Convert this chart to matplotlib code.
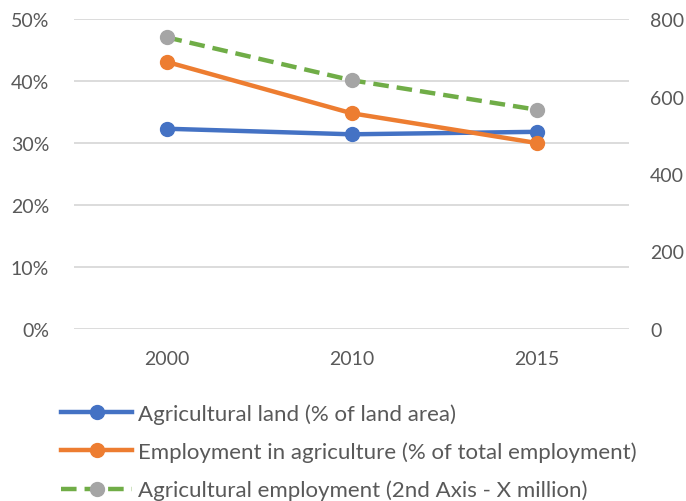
import matplotlib.pyplot as plt
from matplotlib.ticker import PercentFormatter

years = ["2000", "2010", "2015"]
land_share = [32.3, 31.4, 31.8]
employment_share = [43.1, 34.8, 30.0]
employment_millions = [753, 642, 566]

grey_text = "#595959"
plt.rcParams["font.family"] = ["Lato", "DejaVu Sans"]

fig = plt.figure(figsize=(6.86, 5.02), dpi=100)
ax = fig.add_axes([0.108, 0.343, 0.809, 0.617])
ax2 = ax.twinx()

x = range(len(years))
l1, = ax.plot(x, land_share, color="#4472C4", lw=3.2, marker="o", ms=10,
              label="Agricultural land (% of land area)", zorder=3)
l2, = ax.plot(x, employment_share, color="#ED7D31", lw=3.2, marker="o", ms=10,
              label="Employment in agriculture (% of total employment)", zorder=3)
l3, = ax2.plot(x, employment_millions, color="#70AD47", lw=3.2, ls=(0, (3.5, 1.8)),
               marker="o", ms=10, mfc="#A5A5A5", mec="#A5A5A5",
               label="Agricultural employment (2nd Axis - X million)")

ax.set_xlim(-0.5, 2.5)
ax.set_ylim(0, 50)
ax.set_yticks(range(0, 51, 10))
ax.yaxis.set_major_formatter(PercentFormatter(decimals=0))
ax2.set_ylim(0, 800)
ax2.set_yticks(range(0, 801, 200))
ax.set_xticks(list(x))
ax.set_xticklabels(years)

ax.grid(axis="y", color="#D9D9D9", lw=1.3)
ax.set_axisbelow(True)
for a in (ax, ax2):
    for s in a.spines.values():
        s.set_visible(False)
    a.tick_params(length=0, labelsize=14, colors=grey_text)
ax.tick_params(axis="x", pad=15)
ax.tick_params(axis="y", pad=18)
ax2.tick_params(axis="y", pad=15)

fig.legend(handles=[l1, l2, l3], loc="upper left", bbox_to_anchor=(0.076, 0.213),
           frameon=False, fontsize=16, labelcolor=grey_text, handlelength=3.2,
           handletextpad=0.25, labelspacing=0.8, borderaxespad=0)

fig.savefig("out.png", dpi=100)
